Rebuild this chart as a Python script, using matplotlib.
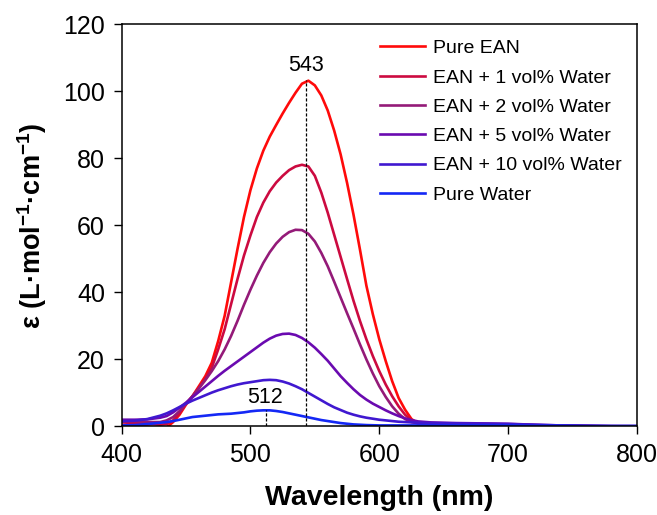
import matplotlib
matplotlib.use("Agg")
import matplotlib.pyplot as plt

plt.rcParams['font.family'] = ['Liberation Sans', 'DejaVu Sans']
plt.rcParams['mathtext.fontset'] = 'custom'
plt.rcParams['mathtext.rm'] = 'Liberation Sans'
plt.rcParams['mathtext.bf'] = 'Liberation Sans:bold'

wavelength = [400, 410, 420, 430, 435, 440, 445, 450, 455, 460, 465, 470, 475, 480, 485,
              490, 495, 500, 505, 510, 515, 520, 525, 530, 535, 540, 545, 550, 555, 560,
              565, 570, 575, 580, 585, 590, 595, 600, 605, 610, 615, 620, 625, 630, 640,
              660, 680, 700, 720, 740, 760, 780, 800]

pure_ean = [0.3, 0.2, 0.0, -0.5, -0.3, 1.3, 3.5, 6.5, 9.0, 12.0, 15.0, 19.0, 25.5, 33.0, 43.0,
            53.0, 62.5, 70.5, 77.0, 82.3, 86.5, 90.0, 93.4, 96.6, 99.6, 102.3, 103.2, 101.8, 98.8, 94.3,
            88.3, 81.2, 72.7, 63.2, 52.8, 42.0, 33.5, 26.0, 19.5, 13.5, 8.5, 5.0, 2.2, 0.9, 0.6,
            0.6, 0.6, 0.5, 0.3, 0.1, 0.05, 0.0, 0.0]

ean_1 = [1.2, 1.0, 0.8, 0.5, 0.7, 1.8, 4.0, 6.8, 9.0, 11.5, 14.2, 17.5, 23.0, 29.0, 36.5,
         44.0, 51.0, 57.0, 62.5, 66.8, 70.2, 72.8, 74.8, 76.5, 77.6, 78.1, 77.6, 74.8, 69.8, 63.8,
         57.2, 50.6, 44.0, 37.5, 31.5, 26.0, 21.0, 16.5, 12.5, 9.0, 6.0, 3.5, 1.8, 0.9, 0.7,
         0.6, 0.6, 0.5, 0.3, 0.1, 0.05, 0.0, 0.0]

ean_2 = [1.8, 1.6, 1.3, 1.3, 1.8, 2.8, 4.6, 6.8, 9.0, 11.3, 13.8, 16.5, 19.5, 23.0, 27.0,
         31.5, 36.3, 40.8, 45.0, 48.8, 52.0, 54.6, 56.6, 58.0, 58.7, 58.6, 57.5, 55.2, 51.8, 47.8,
         43.2, 38.5, 33.8, 29.2, 24.5, 20.0, 15.8, 12.0, 8.8, 6.0, 3.8, 2.2, 1.3, 0.9, 0.8,
         0.7, 0.7, 0.6, 0.4, 0.2, 0.1, 0.05, 0.0]

ean_5 = [2.0, 2.0, 2.1, 2.6, 3.1, 4.2, 5.6, 7.1, 8.7, 10.3, 11.9, 13.5, 15.1, 16.6, 18.0,
         19.4, 20.8, 22.2, 23.6, 25.0, 26.2, 27.1, 27.6, 27.7, 27.3, 26.4, 25.1, 23.5, 21.6, 19.6,
         17.3, 15.0, 13.0, 11.1, 9.4, 8.0, 6.8, 5.8, 4.8, 3.9, 3.1, 2.4, 1.9, 1.5, 1.2,
         1.0, 0.9, 0.8, 0.5, 0.3, 0.2, 0.1, 0.1]

ean_10 = [1.5, 1.7, 2.2, 3.2, 3.9, 4.8, 5.8, 6.8, 7.7, 8.5, 9.3, 10.1, 10.8, 11.4, 12.0,
          12.5, 12.9, 13.2, 13.5, 13.8, 13.9, 13.8, 13.4, 12.8, 12.0, 11.1, 10.0, 8.9, 7.8, 6.7,
          5.7, 4.9, 4.1, 3.5, 3.0, 2.6, 2.3, 2.0, 1.8, 1.6, 1.4, 1.3, 1.2, 1.1, 1.0,
          0.9, 0.8, 0.7, 0.5, 0.3, 0.2, 0.1, 0.1]

pure_water = [0.3, 0.4, 0.7, 1.1, 1.3, 1.6, 2.0, 2.4, 2.8, 3.0, 3.2, 3.4, 3.6, 3.7, 3.8,
              4.0, 4.2, 4.5, 4.7, 4.8, 4.8, 4.6, 4.3, 3.9, 3.5, 3.1, 2.7, 2.3, 1.9, 1.6,
              1.3, 1.0, 0.8, 0.6, 0.5, 0.4, 0.35, 0.3, 0.3, 0.3, 0.3, 0.3, 0.3, 0.3, 0.3,
              0.3, 0.3, 0.3, 0.2, 0.2, 0.1, 0.1, 0.1]

series_labels = ["Pure EAN", "EAN + 1 vol% Water", "EAN + 2 vol% Water",
                 "EAN + 5 vol% Water", "EAN + 10 vol% Water", "Pure Water"]
series_values = [pure_ean, ean_1, ean_2, ean_5, ean_10, pure_water]
series_colors = ["#ff0a0a", "#cc0a40", "#941a78", "#6a0ab0", "#4018d0", "#1428f5"]

peak_ean_wl, peak_ean_val = 543, 103.3
peak_water_wl, peak_water_val = 512, 4.8

x_ticks = [400, 500, 600, 700, 800]
y_ticks = [0, 20, 40, 60, 80, 100, 120]

fig = plt.figure(figsize=(6.57, 5.15), dpi=100)
ax = fig.add_axes([0.185, 0.172, 0.7846, 0.7806])

for vals, lab, col in zip(series_values, series_labels, series_colors):
    ax.plot(wavelength, vals, color=col, lw=1.9, label=lab, solid_joinstyle='round')

ax.plot([peak_ean_wl, peak_ean_wl], [0, peak_ean_val], color='black', lw=0.9,
        linestyle=(0, (2.5, 1.5)))
ax.plot([peak_water_wl, peak_water_wl], [0, peak_water_val], color='black', lw=0.9,
        linestyle=(0, (2.5, 1.5)))
ax.text(peak_ean_wl, 107.8, str(peak_ean_wl), ha='center', va='center', fontsize=15.5)
ax.text(peak_water_wl - 1, 8.6, str(peak_water_wl), ha='center', va='center', fontsize=15.5)

ax.set_xlim(400, 800)
ax.set_ylim(0, 120)
ax.set_xticks(x_ticks)
ax.set_yticks(y_ticks)
ax.tick_params(axis='both', direction='out', length=6, width=1, labelsize=18, pad=6)
for s in ax.spines.values():
    s.set_linewidth(1.1)

ax.set_xlabel("Wavelength (nm)", fontsize=20.5, fontweight='bold', labelpad=13)
ax.set_ylabel(r"ε (L·mol$^{\mathbf{-1}}$·cm$^{\mathbf{-1}}$)", fontsize=19.5,
              fontweight='bold', labelpad=10)

leg = ax.legend(loc='upper left', bbox_to_anchor=(0.5015, 0.962), frameon=False,
                fontsize=14, handlelength=2.3, handletextpad=0.4, labelspacing=0.6,
                borderpad=0, borderaxespad=0)

fig.savefig("out.png", dpi=100)
